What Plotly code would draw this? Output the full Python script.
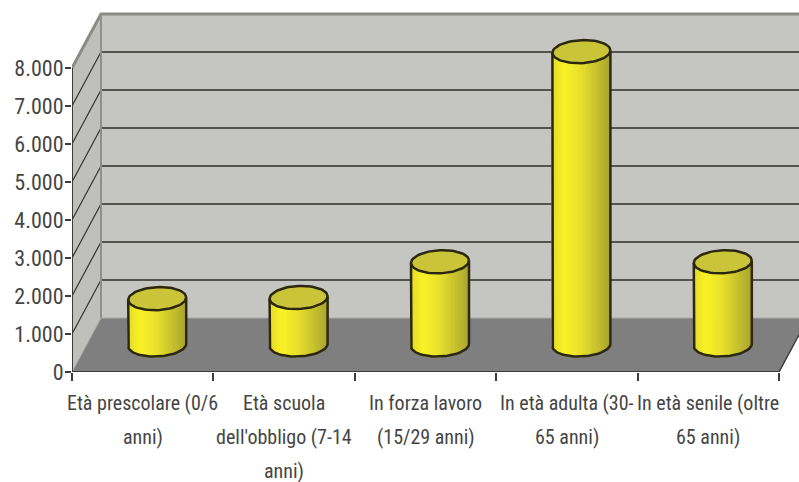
import numpy as np
import plotly.graph_objects as go

categories = ["Età prescolare (0/6 anni)", "Età scuola dell'obbligo (7-14 anni)",
              "In forza lavoro (15/29 anni)", "In età adulta (30-65 anni)", "In età senile (oltre 65 anni)"]
label_lines = [["Età prescolare (0/6", "anni)"],
               ["Età scuola", "dell'obbligo (7-14", "anni)"],
               ["In forza lavoro", "(15/29 anni)"],
               ["In età adulta (30-", "65 anni)"],
               ["In età senile (oltre", "65 anni)"]]
values = [1220, 1250, 2190, 7720, 2190]
y_ticks = [0, 1000, 2000, 3000, 4000, 5000, 6000, 7000, 8000]
y_labels = ["0", "1.000", "2.000", "3.000", "4.000", "5.000", "6.000", "7.000", "8.000"]

W, H = 799, 482
L, T, B = 72, 0, 110
PX_CAT = 141.4
PX_VAL = 0.038
DX = 29 / PX_CAT
DY = 54 / PX_VAL
RX = 29 / PX_CAT
RY = 11.5 / PX_VAL
SHEAR = 1.2 / PX_VAL
X0 = -0.5
X1 = X0 + (W - L) / PX_CAT
XN = 4.5
Y1 = 372 / PX_VAL
FONT = "Roboto Condensed"
TEXT = "#454545"

fig = go.Figure()

def poly(xs, ys, fill=None, line=None, width=0):
    fig.add_trace(go.Scatter(
        x=list(xs), y=list(ys), mode="lines",
        fill="toself" if fill else "none", fillcolor=fill,
        line=dict(color=line or "rgba(0,0,0,0)", width=width),
        hoverinfo="skip", showlegend=False))

top = y_ticks[-1]
# back wall, side wall, floor
poly([X0 + DX, X1 + 1, X1 + 1, X0 + DX, X0 + DX], [DY, DY, top + DY, top + DY, DY], "#c5c5c1")
poly([X0, X0 + DX, X0 + DX, X0, X0], [0, DY, top + DY, top, 0], "#bfbfbb")
poly([X0, XN, XN + DX, X0 + DX, X0], [0, 0, DY, DY, 0], "#7f7f7f")

# gridlines
for v in y_ticks[1:-1]:
    poly([X0, X0 + DX], [v, v + DY], None, "#33332f", 1.2)
    poly([X0 + DX, X1 + 1], [v + DY, v + DY], None, "#54544f", 2)
poly([X0, XN], [0, 0], None, "#3c3c3c", 2)
poly([XN, XN + DX], [0, DY], None, "#3c3c3c", 1.5)
# wall edges
poly([X0, X0 + DX, X1 + 1], [top, top + DY, top + DY], None, "#8a8a86", 3)
poly([X0 + DX, X0 + DX], [DY, top + DY], None, "#8f8f8b", 2)
poly([X0, X0 + DX, X1 + 1], [0, DY, DY], None, "#a9a9a5", 1)

def shade(t):
    stops = [(0.0, (226, 218, 40)), (0.22, (250, 242, 38)), (0.5, (232, 224, 44)),
             (0.8, (196, 190, 46)), (1.0, (170, 165, 48))]
    for (a, ca), (b, cb) in zip(stops, stops[1:]):
        if t <= b:
            f = (t - a) / (b - a)
            c = [round(p + (q - p) * f) for p, q in zip(ca, cb)]
            return f"rgb({c[0]},{c[1]},{c[2]})"
    return "rgb(170,165,48)"

EDGE = "#2c2810"
STRIPS = 26
for i, v in enumerate(values):
    cx = i + DX / 2
    y_base = DY / 2
    y_top = v + DY / 2
    # body, drawn as vertical strips bounded by the two ellipse arcs
    edges = np.linspace(-1, 1, STRIPS + 1)
    for k in range(STRIPS):
        a, b = edges[k], edges[k + 1]
        u = np.linspace(a, b, 4)
        low = y_base - RY * np.sqrt(np.clip(1 - u**2, 0, 1)) + SHEAR * u
        up = y_top + SHEAR * u
        xs = np.r_[cx + RX * u, cx + RX * u[::-1], cx + RX * a]
        ys = np.r_[low, up[::-1], low[0]]
        col = shade((k + 0.5) / STRIPS)
        poly(xs, ys, col, col, 1.5)
    th = np.linspace(0, 2 * np.pi, 73)
    # top ellipse
    u = np.cos(th)
    poly(cx + RX * u, y_top + RY * np.sin(th) + SHEAR * u, "#c9c438", EDGE, 2.5)
    # silhouette
    t2 = np.linspace(np.pi, 2 * np.pi, 37)
    u2 = np.cos(t2)
    sx = np.r_[cx - RX, cx + RX * u2, cx + RX]
    sy = np.r_[y_top - SHEAR, y_base + RY * np.sin(t2) + SHEAR * u2, y_top + SHEAR]
    poly(sx, sy, None, EDGE, 2.5)

# category labels, one annotation a line for the reference's wide line pitch
for i, lines in enumerate(label_lines):
    for j, s in enumerate(lines):
        fig.add_annotation(x=i, y=0, xref="x", yref="y", text=s, showarrow=False,
                           xanchor="center", yanchor="middle", yshift=-(30.5 + 34 * j),
                           font=dict(family=FONT, size=20, color=TEXT))

fig.update_layout(
    width=W, height=H, margin=dict(l=L, r=0, t=T, b=B, pad=0),
    paper_bgcolor="white", plot_bgcolor="white", showlegend=False,
    xaxis=dict(range=[X0, X1], showgrid=False, zeroline=False, showline=False,
               tickmode="array", tickvals=[-0.5, 0.5, 1.5, 2.5, 3.5, 4.5], ticktext=[""] * 6,
               ticks="outside", ticklen=8, tickcolor="#3c3c3c", tickwidth=1.5),
    yaxis=dict(range=[0, Y1], showgrid=False, zeroline=False, showline=False,
               tickmode="array", tickvals=y_ticks, ticktext=y_labels,
               ticks="outside", ticklen=6, tickcolor="#3c3c3c", tickwidth=1.5,
               ticklabelstandoff=-3,
               tickfont=dict(family=FONT, size=22, color=TEXT)),
)
poly([X0, X0], [0, top], None, "#3c3c3c", 2)

fig.write_html("out.html", config={"displayModeBar": False},
               post_script="document.body.style.margin='0'")
